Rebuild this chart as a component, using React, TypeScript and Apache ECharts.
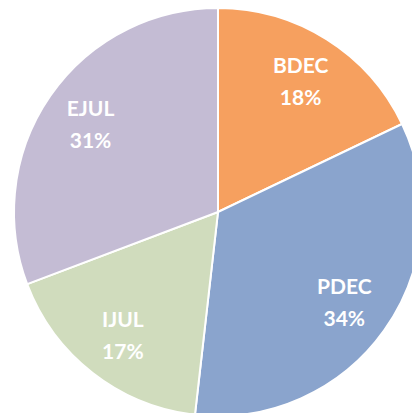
import React, { useEffect, useRef } from "react";
import * as echarts from "echarts";

const categories = ["BDEC", "PDEC", "IJUL", "EJUL"];
const values = [17.9, 33.9, 17.45, 30.75];
const colors = ["#F6A05F", "#8AA4CD", "#D0DCBD", "#C4BCD4"];

export default function App() {
  const ref = useRef<HTMLDivElement>(null);
  useEffect(() => {
    if (!ref.current) return;
    const chart = echarts.init(ref.current, undefined, { renderer: "svg" });
    const data = categories.map((name, i) => ({
      name,
      value: values[i],
      itemStyle: { color: colors[i] },
    }));
    chart.setOption({
      animation: false,
      backgroundColor: "#ffffff",
      series: [
        {
          type: "pie",
          center: [218, 212],
          radius: [0, 204],
          startAngle: 90,
          clockwise: true,
          silent: true,
          data,
          itemStyle: { borderColor: "#ffffff", borderWidth: 2 },
          label: { show: false },
          labelLine: { show: false },
        },
        {
          type: "pie",
          center: [218, 212],
          radius: [100, 204],
          startAngle: 90,
          clockwise: true,
          silent: true,
          data: categories.map((name, i) => ({ name, value: values[i] })),
          itemStyle: { color: "rgba(0,0,0,0)", borderWidth: 0 },
          label: {
            show: true,
            position: "inside",
            formatter: (p: any) => `${p.name}\n${Math.round(p.percent)}%`,
            color: "#ffffff",
            fontFamily: "Lato",
            fontWeight: "bold",
            fontSize: 21,
            lineHeight: 32,
            align: "center",
          },
          labelLine: { show: false },
        },
      ],
    });
    return () => chart.dispose();
  }, []);
  return (
    <div
      ref={ref}
      style={{ position: "fixed", left: 0, top: 0, width: 412, height: 413 }}
    />
  );
}
